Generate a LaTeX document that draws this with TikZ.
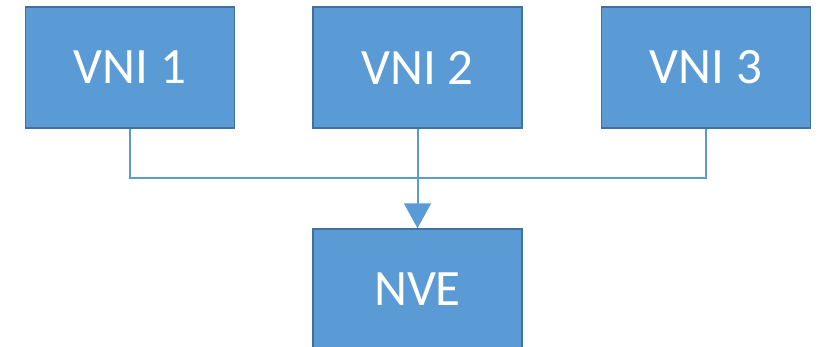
\documentclass[tikz,border=0pt]{standalone}
\usepackage{fontspec}
\setmainfont{Carlito}
\usetikzlibrary{arrows.meta}
\definecolor{boxfill}{HTML}{5B9BD5}
\definecolor{boxline}{HTML}{41719C}
\definecolor{linkcol}{HTML}{5B9BD5}
\begin{document}
\begin{tikzpicture}[x=1pt,y=-1pt,
  vbox/.style={draw=boxline, line width=1.5pt, fill=boxfill, text=white,
    minimum width=209pt, minimum height=121pt, inner sep=0pt,
    font=\fontsize{51}{51}\selectfont},
  link/.style={draw=linkcol, line width=2pt}]
\useasboundingbox (0,0) rectangle (821,346);
\clip (0,0) rectangle (821,346);
\node[vbox] (v1) at (130,67.5) {VNI 1};
\node[vbox] (v2) at (417.5,67.5) {VNI 2};
\node[vbox] (v3) at (706,67.5) {VNI 3};
\node[vbox] (nve) at (417.5,289.5) {NVE};
\coordinate (j) at (417.5,178);
\draw[link] (v1.south) |- (j);
\draw[link] (v3.south) |- (j);
\draw[link,-{Triangle[width=27pt,length=25pt]}] (v2.south) -- (nve.north);
\end{tikzpicture}
\end{document}
